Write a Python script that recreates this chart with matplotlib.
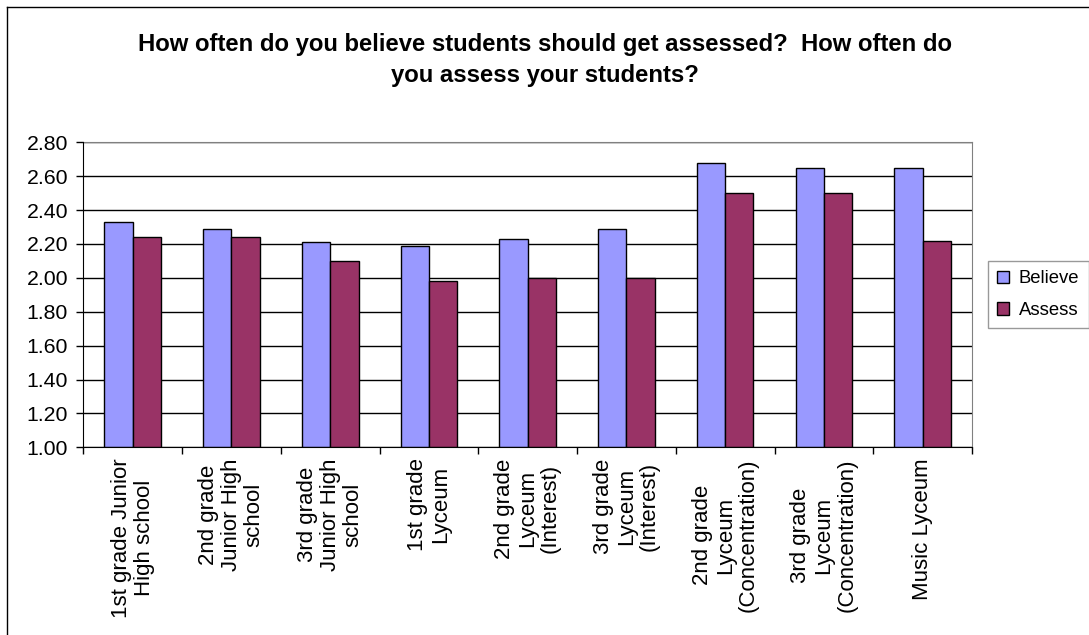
import numpy as np
import matplotlib
matplotlib.use("Agg")
import matplotlib.pyplot as plt
from matplotlib.lines import Line2D
from matplotlib.ticker import FormatStrFormatter

categories = [
    "1st grade Junior\nHigh school",
    "2nd grade\nJunior High\nschool",
    "3rd grade\nJunior High\nschool",
    "1st grade\nLyceum",
    "2nd grade\nLyceum\n(Interest)",
    "3rd grade\nLyceum\n(Interest)",
    "2nd grade\nLyceum\n(Concentration)",
    "3rd grade\nLyceum\n(Concentration)",
    "Music Lyceum",
]
believe = [2.33, 2.29, 2.21, 2.19, 2.23, 2.29, 2.68, 2.65, 2.65]
assess = [2.24, 2.24, 2.10, 1.98, 2.00, 2.00, 2.50, 2.50, 2.22]
yticks = [1.00, 1.20, 1.40, 1.60, 1.80, 2.00, 2.20, 2.40, 2.60, 2.80]

plt.rcParams["font.family"] = ["Liberation Sans", "DejaVu Sans"]

W, H = 1089, 635
fig = plt.figure(figsize=(W / 100, H / 100), dpi=100)
ax = fig.add_axes([83.3 / W, 1 - 447.3 / H, (972 - 83.3) / W, (447.3 - 142.3) / H])

x = np.arange(len(categories))
bw = 0.287
ax.bar(x - bw / 2, np.array(believe) - 1.0, bw, bottom=1.0, color="#9999FF",
       edgecolor="black", linewidth=1.0, label="Believe", zorder=2)
ax.bar(x + bw / 2, np.array(assess) - 1.0, bw, bottom=1.0, color="#993366",
       edgecolor="black", linewidth=1.0, label="Assess", zorder=2)

ax.set_xlim(-0.5, len(categories) - 0.5)
ax.set_ylim(1.0, 2.8)
ax.set_yticks(yticks)
ax.yaxis.set_major_formatter(FormatStrFormatter("%.2f"))
ax.tick_params(axis="y", direction="out", length=5, width=1, pad=6,
               labelsize=15.3, color="black")

# category separators as major ticks, labels on minor ticks
ax.set_xticks(np.arange(-0.5, len(categories), 1.0))
ax.set_xticklabels([])
ax.set_xticks(x, minor=True)
ax.set_xticklabels(categories, minor=True, rotation=90, ha="center", va="top",
                   fontsize=16, linespacing=1.12, multialignment="center")
ax.tick_params(axis="x", which="major", direction="out", length=5, width=1)
ax.tick_params(axis="x", which="minor", length=0, pad=8)

ax.grid(axis="y", color="black", linewidth=1.0)
ax.set_axisbelow(True)
for s in ("top", "right"):
    ax.spines[s].set_color("#808080")
for s in ("left", "bottom"):
    ax.spines[s].set_color("black")
    ax.spines[s].set_zorder(3)

fig.suptitle("How often do you believe students should get assessed?  How often do\n"
             "you assess your students?", x=0.5, y=1 - 33 / H, fontsize=17.2,
             fontweight="bold", linespacing=1.45, va="top")

leg = fig.legend(loc="upper left", bbox_to_anchor=(988 / W, 1 - 261 / H),
                 fontsize=13.3, frameon=True, fancybox=False, handlelength=0.65,
                 handleheight=0.65, handletextpad=0.52, borderpad=0.5,
                 labelspacing=0.8, borderaxespad=0)
leg.get_frame().set_edgecolor("#808080")
leg.get_frame().set_linewidth(1.0)

# outer chart border (right and bottom run off the image)
fig.add_artist(Line2D([7 / W, 7 / W], [0, 1 - 7 / H], transform=fig.transFigure,
                      color="black", linewidth=1.0))
fig.add_artist(Line2D([7 / W, 1], [1 - 7 / H, 1 - 7 / H], transform=fig.transFigure,
                      color="black", linewidth=1.0))

plt.savefig("out.png", dpi=100)
